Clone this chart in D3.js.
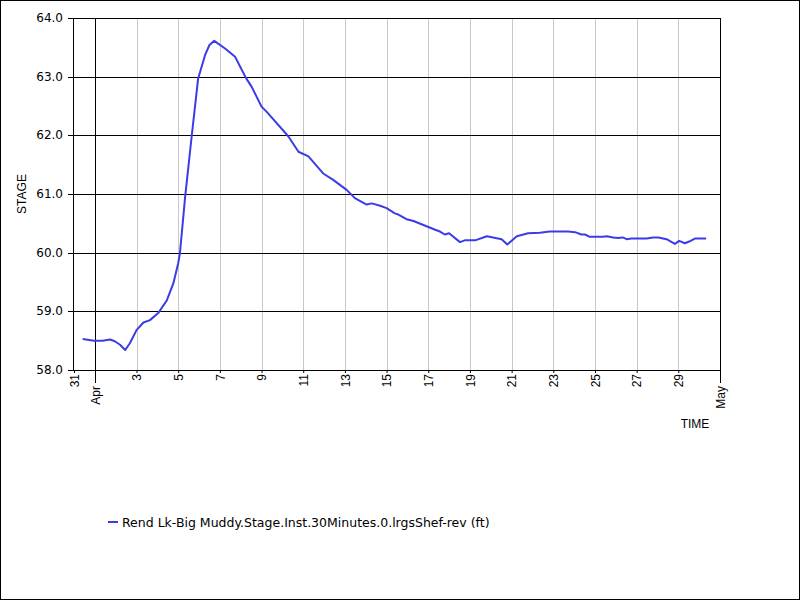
<!DOCTYPE html>
<html><head><meta charset="utf-8">
<script src="https://cdn.jsdelivr.net/npm/d3@7"></script>
<style>html,body{margin:0;padding:0;background:#fff;}svg{display:block;}</style>
</head><body>
<svg id="c" width="800" height="600"></svg>
<script>
// ---- data ----
const times = ["2019-03-31 10:00","2019-03-31 23:00","2019-04-01 09:00","2019-04-01 17:30","2019-04-01 23:00",
"2019-04-02 05:00","2019-04-02 11:00","2019-04-02 16:30","2019-04-03 00:00","2019-04-03 08:00","2019-04-03 15:30",
"2019-04-04 01:00","2019-04-04 11:00","2019-04-04 18:30","2019-04-05 00:00","2019-04-05 02:00","2019-04-05 08:00",
"2019-04-05 15:30","2019-04-05 23:00","2019-04-06 07:00","2019-04-06 12:00","2019-04-06 17:30","2019-04-07 06:00",
"2019-04-07 17:30","2019-04-08 06:00","2019-04-08 12:30","2019-04-09 00:00","2019-04-09 06:00","2019-04-10 07:00",
"2019-04-10 18:30","2019-04-11 06:00","2019-04-11 23:00","2019-04-12 10:30","2019-04-13 02:00","2019-04-13 11:30",
"2019-04-14 01:00","2019-04-14 07:00","2019-04-14 16:30","2019-04-15 00:00","2019-04-15 09:30","2019-04-15 13:30",
"2019-04-15 23:00","2019-04-16 07:00","2019-04-16 22:00","2019-04-17 08:00","2019-04-17 13:30","2019-04-17 19:00",
"2019-04-18 00:00","2019-04-18 12:30","2019-04-18 18:00","2019-04-19 06:00","2019-04-19 19:30","2019-04-20 12:30",
"2019-04-20 19:00","2019-04-21 06:00","2019-04-21 19:00","2019-04-22 08:30","2019-04-22 20:00","2019-04-23 17:00",
"2019-04-24 01:00","2019-04-24 08:30","2019-04-24 12:30","2019-04-24 18:00","2019-04-25 09:30","2019-04-25 13:30",
"2019-04-25 21:00","2019-04-26 03:00","2019-04-26 08:00","2019-04-26 12:30","2019-04-26 18:00","2019-04-27 11:30",
"2019-04-27 19:00","2019-04-28 01:00","2019-04-28 10:30","2019-04-28 20:00","2019-04-29 01:00","2019-04-29 07:30",
"2019-04-29 12:30","2019-04-29 19:00","2019-04-30 08:00"];
const stage = [58.53,58.50,58.50,58.52,58.49,
58.43,58.34,58.46,58.68,58.81,58.85,
58.97,59.19,59.48,59.82,59.99,60.95,
61.98,62.97,63.37,63.54,63.61,63.48,
63.34,62.98,62.83,62.49,62.40,61.98,
61.72,61.64,61.35,61.24,61.07,60.93,
60.82,60.84,60.80,60.76,60.67,60.65,
60.57,60.54,60.45,60.39,60.36,60.31,
60.33,60.18,60.21,60.21,60.28,60.23,
60.14,60.28,60.33,60.34,60.36,60.36,
60.35,60.31,60.31,60.27,60.27,60.28,
60.26,60.25,60.26,60.23,60.24,60.24,
60.26,60.26,60.23,60.15,60.20,60.16,
60.19,60.24,60.24];
const yTicks = [58,59,60,61,62,63,64];
const xTickDays = ["2019-03-31","2019-04-03","2019-04-05","2019-04-07","2019-04-09","2019-04-11","2019-04-13","2019-04-15",
"2019-04-17","2019-04-19","2019-04-21","2019-04-23","2019-04-25","2019-04-27","2019-04-29"];
const monthTicks = ["2019-04-01","2019-05-01"];
const monthLabels = ["Apr","May"];
const seriesName = "Rend Lk-Big Muddy.Stage.Inst.30Minutes.0.lrgsShef-rev (ft)";
const xTitle = "TIME", yTitle = "STAGE";

// ---- drawing ----
const pt = d3.timeParse("%Y-%m-%d %H:%M");
const pd = d3.timeParse("%Y-%m-%d");
const data = times.map((t,i)=>({t:pt(t), v:stage[i]}));
const svg = d3.select("#c");
const L=74, R=720, T=18, B=370;
const x = d3.scaleTime().domain([pd("2019-03-31"), pd("2019-05-01")]).range([L,R]);
const y = d3.scaleLinear().domain([58,64]).range([B,T]);

svg.append("rect").attr("x",0.5).attr("y",0.5).attr("width",799).attr("height",599)
  .attr("fill","#fff").attr("stroke","#000");

// vertical gray grid
const xt = xTickDays.map(pd);
svg.append("g").selectAll("line").data(xt.slice(1)).join("line")
  .attr("x1",d=>Math.round(x(d))+0.5).attr("x2",d=>Math.round(x(d))+0.5)
  .attr("y1",T).attr("y2",B).attr("stroke","#c8c8c8");

// horizontal black grid (y axis)
const yAxis = d3.axisLeft(y).tickValues(yTicks).tickFormat(d3.format(".1f")).tickSize(-(R-L)).tickPadding(6);
const gy = svg.append("g").attr("transform",`translate(${L},0)`).call(yAxis);
gy.select(".domain").remove();
gy.selectAll(".tick line").attr("stroke","#000").attr("x1",-6);
gy.selectAll(".tick").attr("transform",d=>`translate(0,${Math.round(y(d))+0.5})`);
gy.selectAll("text").attr("font-family","DejaVu Sans").attr("font-size",12).attr("fill","#000").attr("x",-11);

// axis frame lines
svg.append("line").attr("x1",L-0.5).attr("x2",L-0.5).attr("y1",T).attr("y2",B).attr("stroke","#000");
svg.append("line").attr("x1",L).attr("x2",R).attr("y1",B+0.5).attr("y2",B+0.5).attr("stroke","#000");

// x axis: day ticks
const xAxis = d3.axisBottom(x).tickValues(xt).tickFormat(d3.timeFormat("%-d")).tickSize(3).tickPadding(3);
const gx = svg.append("g").attr("transform",`translate(0,${B})`).call(xAxis);
gx.select(".domain").remove();
gx.selectAll(".tick line").attr("stroke","#000");
gx.selectAll("text").attr("font-family","Liberation Sans").attr("font-size",12).attr("fill","#000")
  .attr("transform","rotate(-90)").attr("text-anchor","end").attr("x",-4).attr("y",0).attr("dy","0.35em");

// month ticks
const mt = monthTicks.map(pd);
const gm = svg.append("g");
gm.selectAll("line").data(mt).join("line")
  .attr("x1",d=>Math.round(x(d))+0.5).attr("x2",d=>Math.round(x(d))+0.5)
  .attr("y1",T).attr("y2",B+13).attr("stroke","#000");
gm.selectAll("text").data(mt).join("text")
  .attr("transform",d=>`translate(${Math.round(x(d))+0.5},${B+16}) rotate(-90)`)
  .attr("text-anchor","end").attr("dy","0.35em")
  .attr("font-family","Liberation Sans").attr("font-size",12)
  .text((d,i)=>monthLabels[i]);

// series line
svg.append("path").datum(data)
  .attr("d", d3.line().x(d=>x(d.t)).y(d=>y(d.v)))
  .attr("fill","none").attr("stroke","#3c3ce6").attr("stroke-width",2).attr("stroke-linejoin","round");

// axis titles
svg.append("text").attr("x",695).attr("y",428).attr("text-anchor","middle")
  .attr("font-family","Liberation Sans").attr("font-size",12).text(xTitle);
svg.append("text").attr("transform","translate(26,194) rotate(-90)").attr("text-anchor","middle")
  .attr("font-family","Liberation Sans").attr("font-size",12).text(yTitle);

// legend
svg.append("line").attr("x1",108).attr("x2",118).attr("y1",522).attr("y2",522)
  .attr("stroke","#3c3ce6").attr("stroke-width",2);
svg.append("text").attr("x",122).attr("y",526.5).attr("font-family","DejaVu Sans").attr("font-size",12.5)
  .text(seriesName);
</script>
</body></html>
